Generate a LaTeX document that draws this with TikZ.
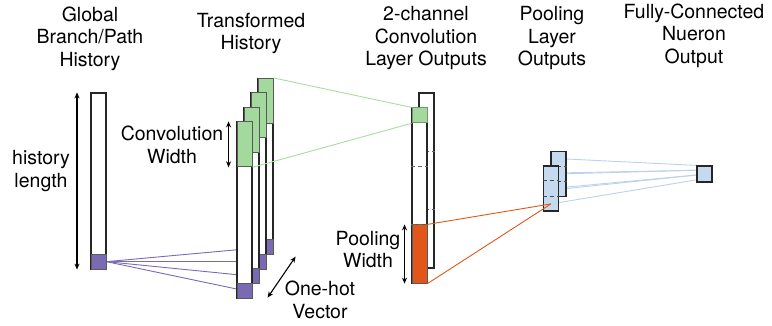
\documentclass[tikz,border=0pt]{standalone}
\usepackage{fontspec}
\setmainfont{TeX Gyre Heros}
\usepackage{tikz}
\usetikzlibrary{calc,positioning,arrows.meta,backgrounds}
\definecolor{hgreen}{HTML}{A3D99C}
\definecolor{hgreenline}{HTML}{A9DCA2}
\definecolor{hpurple}{HTML}{7A69B3}
\definecolor{horange}{HTML}{E3561A}
\definecolor{hblue}{HTML}{C6DAEF}
\definecolor{hblueline}{HTML}{BCD2EB}

\begin{document}
\begin{tikzpicture}[x=1pt,y=-1pt,
        bar/.style={draw=black!85,fill=white,line width=1.2pt,inner sep=0pt,
            minimum width=15pt,minimum height=176pt},
        cell/.style={draw=black!65,line width=0.9pt,inner sep=0pt,minimum width=15pt},
        lbl/.style={align=center,anchor=north,inner sep=0pt,
            font=\fontsize{19.5}{22.5}\selectfont},
        dim/.style={{Stealth[length=6pt,width=5pt]}-{Stealth[length=6pt,width=5pt]},line width=1.1pt},
        divider/.style={dash pattern=on 4pt off 3pt,black!60,line width=0.8pt},
        link/.style={line width=0.9pt}]
    \useasboundingbox (0,0) rectangle (772,325);

    \node[lbl] (t-global) at (90,6.5) {Global\\Branch/Path\\History};
    \node[lbl] (t-trans) at (251,13) {Transformed\\History};
    \node[lbl] (t-conv) at (426,6.5) {2-channel\\Convolution\\Layer Outputs};
    \node[lbl] (t-pool) at (552,6.5) {Pooling\\Layer\\Outputs};
    \node[lbl] (t-fc) at (694,3.5) {Fully-Connected\\Nueron\\Output};

    \node[bar] (gh) at (98.5,181) {};
    \node[cell,fill=hpurple,minimum height=15pt,anchor=south] (gh-hot) at (gh.south) {};
    \draw[dim] ([xshift=-21.5pt]gh.north) -- ([xshift=-21.5pt]gh.south);
    \node[lbl] (l-hist) at (41,150.5) {history\\length};

    \foreach \k in {4,3,2,1}{
        \node[bar] (th\k) at ({244.5+7*(\k-1)},{210-14.5*(\k-1)}) {};
        \node[cell,fill=hgreen,minimum height=45pt,anchor=north] (th\k-conv) at (th\k.north) {};
        \node[cell,fill=hpurple,minimum height=15pt,anchor=south] (th\k-hot) at (th\k.south) {};
    }
    \draw[dim] ([xshift=-8pt]th1-conv.north west) -- ([xshift=-8pt]th1-conv.south west);
    \node[lbl] (l-convw) at (172,126) {Convolution\\Width};
    \draw[dim] ([shift={(15,-1)}]th1.south east) -- ([shift={(22,1.5)}]th4.south east);
    \node[lbl] (l-onehot) at (320,281) {One-hot\\Vector};

    \node[bar,minimum height=175pt] (cv2) at (426.5,180.5) {};
    \foreach \k in {1,2}
        \draw[divider] ($(cv2.north west)!\k/3!(cv2.south west)$) -- ($(cv2.north east)!\k/3!(cv2.south east)$);
    \node[bar,minimum height=175pt] (cv1) at (419.5,195.5) {};
    \node[cell,fill=hgreen,draw=hgreen!70!black,minimum height=15pt,anchor=north] (cv1-conv) at (cv1.north) {};
    \node[cell,fill=horange,minimum height=58.3pt,anchor=south] (cv1-pool) at (cv1.south) {};
    \foreach \k in {1,2}
        \draw[divider] ($(cv1.north west)!\k/3!(cv1.south west)$) -- ($(cv1.north east)!\k/3!(cv1.south east)$);
    \draw[dim] ([xshift=-7pt]cv1-pool.north west) -- ([xshift=-7pt]cv1-pool.south west);
    \node[lbl] (l-poolw) at (368,231) {Pooling\\Width};

    \node[bar,fill=hblue,minimum height=45pt] (pb2) at (558.5,174) {};
    \foreach \k in {1,2}
        \draw[divider,black!70] ($(pb2.north west)!\k/3!(pb2.south west)$) -- ($(pb2.north east)!\k/3!(pb2.south east)$);
    \node[bar,fill=hblue,minimum height=45pt] (pb1) at (551,188.5) {};
    \foreach \k in {1,2}
        \draw[divider,black!70] ($(pb1.north west)!\k/3!(pb1.south west)$) -- ($(pb1.north east)!\k/3!(pb1.south east)$);
    \node[bar,fill=hblue,minimum height=16pt] (fc) at (704.5,174) {};

    \begin{scope}[on background layer]
        \foreach \k in {1,...,4}
            \draw[link,hpurple] (gh-hot.east) -- (th\k-hot.center);
        \foreach \b/\s in {pb2/0,pb1/1}
            \foreach \k in {1,2,3}
                \draw[link,hblueline] ($(\b.north)!\k/3-1/6!(\b.south)$) -- ($(fc.north west)!0.28*\k+0.28*\s-0.28!(fc.south west)$);
    \end{scope}

    \draw[link,hgreenline] (th4-conv.north east) -- (cv1-conv.north west);
    \draw[link,hgreenline] (th1-conv.south east) -- (cv1-conv.south west);
    \draw[link,horange] (cv1-pool.north east) -- ($(pb1.north)!5/6!(pb1.south)$);
    \draw[link,horange] (cv1-pool.south east) -- ($(pb1.north)!5/6!(pb1.south)$);
\end{tikzpicture}
\end{document}
